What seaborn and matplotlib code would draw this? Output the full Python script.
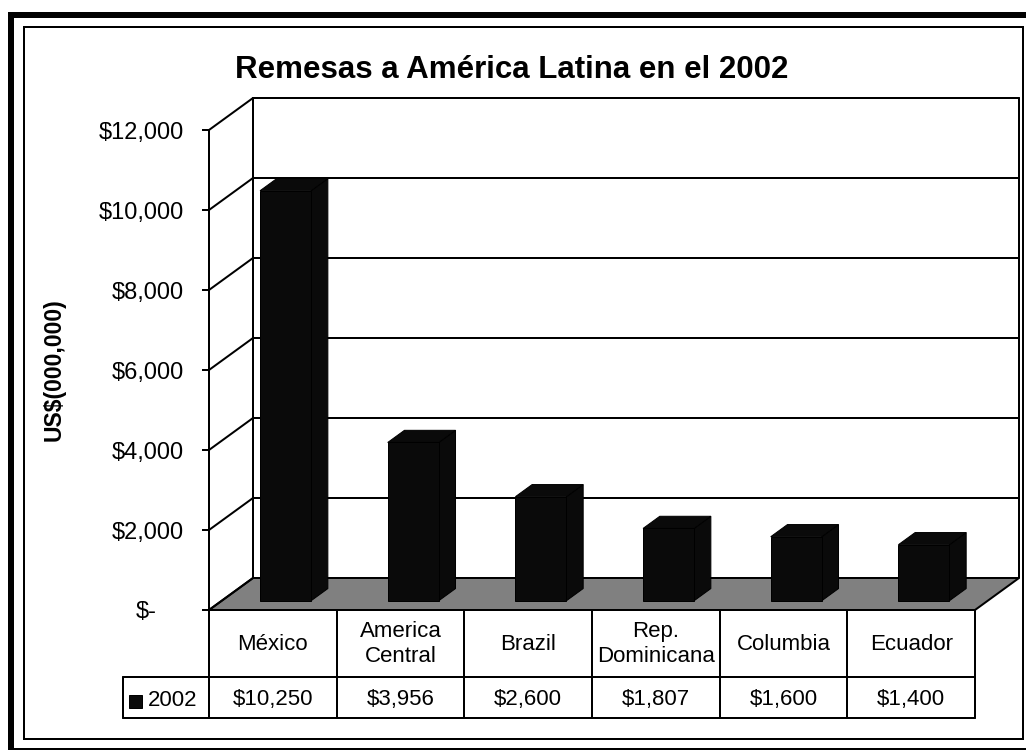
import numpy as np
import pandas as pd
import matplotlib
matplotlib.use("Agg")
import matplotlib.pyplot as plt
import matplotlib.transforms as mtransforms
from matplotlib.patches import Rectangle, Polygon
from matplotlib.lines import Line2D
import seaborn as sns

# ---------------- data ----------------
categories = ["México", "America\nCentral", "Brazil", "Rep.\nDominicana", "Columbia", "Ecuador"]
values = [10250, 3956, 2600, 1807, 1600, 1400]
series_name = "2002"
value_labels = ["$10,250", "$3,956", "$2,600", "$1,807", "$1,600", "$1,400"]
y_ticks = [0, 2000, 4000, 6000, 8000, 10000, 12000]
y_tick_labels = ["$-", "$2,000", "$4,000", "$6,000", "$8,000", "$10,000", "$12,000"]
title = "Remesas a América Latina en el 2002"
y_label = "US$(000,000)"

# ---------------- style ----------------
sns.set_theme(style="white")
plt.rcParams["font.family"] = ["Liberation Sans", "DejaVu Sans"]

W, H = 1026, 750
fig = plt.figure(figsize=(W / 100, H / 100), dpi=100)
fig.patch.set_facecolor("white")


def fx(px):
    return px / W


def fy(py):
    return 1 - py / H


PT = 72 / 100  # points per pixel

# front plane of the 3-D box
L, R, T, B = 209, 975, 130, 610
ax = fig.add_axes([fx(L), fy(B), fx(R) - fx(L), fy(T) - fy(B)])
ax.patch.set_visible(False)

n = len(categories)
ymax = y_ticks[-1]
px_per_cat = (R - L) / n
px_per_val = (B - T) / ymax
DX = 44 / px_per_cat      # depth offset in category units
DY = 32 / px_per_val      # depth offset in value units
d0, d1 = 0.29, 0.67       # bar depth range


def proj(x, y, d):
    return (x + d * DX, y + d * DY)


BAR = "#0a0a0a"
LW = 2 * PT

df = pd.DataFrame({"cat": categories, "val": values})
sns.barplot(data=df, x="cat", y="val", color=BAR, saturation=1, width=0.4,
            edgecolor="black", linewidth=1 * PT, ax=ax, zorder=3)
ax.set_xlim(-0.5, n - 0.5)
ax.set_ylim(0, ymax)

# floor
floor = Polygon([proj(-0.5, 0, 0), proj(n - 0.5, 0, 0), proj(n - 0.5, 0, 1), proj(-0.5, 0, 1)],
                closed=True, facecolor="#808080", edgecolor="black", lw=LW, zorder=1.5,
                clip_on=False)
ax.add_patch(floor)

# back wall gridlines and side wall diagonals
for t in y_ticks:
    xa, ya = proj(-0.5, t, 1)
    if t > 0:
        xb, yb = proj(n - 0.5, t, 1)
        ax.add_line(Line2D([xa, xb], [ya, yb], color="black", lw=LW, zorder=1, clip_on=False))
    xf, yf = proj(-0.5, t, 0)
    ax.add_line(Line2D([xf, xa], [yf, ya], color="black", lw=LW, zorder=1.6, clip_on=False))
for xe in (-0.5, n - 0.5):
    x0_, y0_ = proj(xe, 0, 1)
    x1_, y1_ = proj(xe, ymax, 1)
    ax.add_line(Line2D([x0_, x1_], [y0_, y1_], color="black", lw=LW, zorder=1, clip_on=False))

# 3-D bars: shift front faces, add side and top faces
bars = [p for p in ax.patches if isinstance(p, Rectangle)]
dd = d1 - d0
for p in bars:
    p.set_x(p.get_x() + d0 * DX)
    p.set_y(p.get_y() + d0 * DY)
    p.set_zorder(3)
    p.set_clip_on(False)
    x0 = p.get_x(); w = p.get_width(); y0 = p.get_y(); h = p.get_height()
    side = [(x0 + w, y0), (x0 + w + dd * DX, y0 + dd * DY),
            (x0 + w + dd * DX, y0 + h + dd * DY), (x0 + w, y0 + h)]
    top = [(x0, y0 + h), (x0 + w, y0 + h),
           (x0 + w + dd * DX, y0 + h + dd * DY), (x0 + dd * DX, y0 + h + dd * DY)]
    for poly in (side, top):
        ax.add_patch(Polygon(poly, closed=True, facecolor=BAR, edgecolor="black",
                             lw=1 * PT, zorder=2.9, clip_on=False))

# axes styling
for s in ("top", "right", "bottom"):
    ax.spines[s].set_visible(False)
ax.spines["left"].set_color("black")
ax.spines["left"].set_linewidth(LW)
ax.set_xticks([])
ax.set_xlabel("")
ax.set_ylabel("")
ax.set_yticks(y_ticks, y_tick_labels)
ax.tick_params(axis="y", direction="out", length=7 * PT, width=LW, pad=18 * PT,
               labelsize=17, colors="black", left=True)
for tick, lab in zip(ax.yaxis.get_major_ticks(), y_tick_labels):
    if lab == "$-":
        tick.label1.set_x(-27 / (R - L))

# ---------------- data table ----------------
blend = mtransforms.blended_transform_factory(ax.transData, fig.transFigure)
row1_top, row1_bot, row2_bot = 610, 677, 718
leg_left = 123
for yy in (row1_top, row1_bot, row2_bot):
    if yy != row1_top:
        fig.add_artist(Line2D([fx(leg_left), fx(L)], [fy(yy), fy(yy)], color="black",
                              lw=LW, transform=fig.transFigure))
    ax.add_line(Line2D([-0.5, n - 0.5], [fy(yy), fy(yy)], color="black", lw=LW,
                       transform=blend, clip_on=False))
for i in range(n + 1):
    ax.add_line(Line2D([i - 0.5, i - 0.5], [fy(row1_top), fy(row2_bot)], color="black",
                       lw=LW, transform=blend, clip_on=False))
fig.add_artist(Line2D([fx(leg_left), fx(leg_left)], [fy(row1_bot), fy(row2_bot)],
                      color="black", lw=LW, transform=fig.transFigure))
for i, (c, v) in enumerate(zip(categories, value_labels)):
    ax.text(i, fy(644), c, transform=blend, ha="center", va="center", fontsize=16,
            color="black", linespacing=1.25)
    ax.text(i, fy(700), v, transform=blend, ha="center", va="center", fontsize=16,
            color="black")
# legend key
fig.add_artist(Rectangle((fx(129), fy(708)), fx(13), fy(0) - fy(13), facecolor=BAR,
                         edgecolor="black", lw=1 * PT, transform=fig.transFigure))
fig.text(fx(148), fy(700), series_name, ha="left", va="center", fontsize=16, color="black")

# ---------------- titles ----------------
fig.text(fx(512), fy(78), title, ha="center", va="baseline", fontsize=22.5,
         fontweight="bold", color="black")
fig.text(fx(54), fy(370), y_label, rotation=90, ha="center", va="center", fontsize=16.5,
         fontweight="bold", color="black")

# ---------------- frames ----------------
fig.add_artist(Rectangle((fx(11), fy(751)), fx(1031) - fx(11), fy(15) - fy(751), fill=False,
                         edgecolor="black", lw=6 * PT, transform=fig.transFigure))
fig.add_artist(Rectangle((fx(24), fy(739)), fx(1023) - fx(24), fy(27) - fy(739), fill=False,
                         edgecolor="black", lw=2 * PT, transform=fig.transFigure))

fig.savefig("out.png", dpi=100, facecolor="white")
